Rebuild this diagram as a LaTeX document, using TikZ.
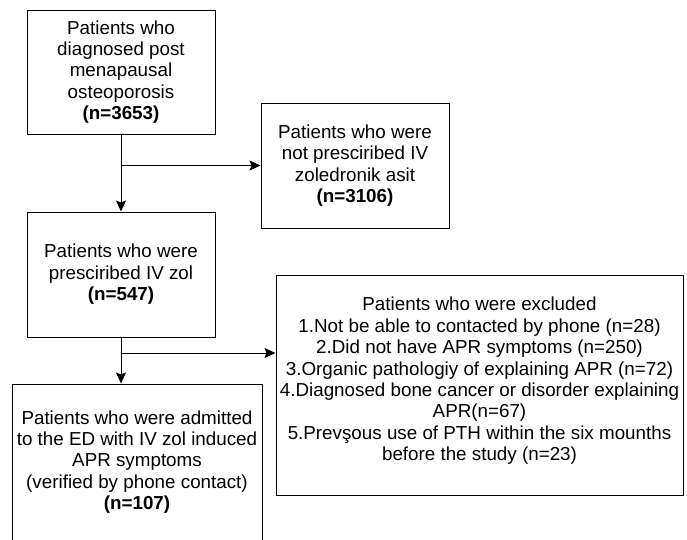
\documentclass[tikz,border=0pt]{standalone}
\usepackage{fontspec}
\setmainfont{Liberation Sans}
\usepackage{tikz}
\usetikzlibrary{shapes,arrows.meta}

\tikzset{
  box/.style={draw, line width=1pt, align=center, inner sep=0pt, font=\fontsize{18.8}{21.4}\selectfont},
  arr/.style={-{Stealth[length=11pt,width=10pt,inset=2pt]}, line width=1pt}
}

\begin{document}
\begin{tikzpicture}[x=1pt,y=1pt,yscale=-1,xscale=1]
        \useasboundingbox (0,0) rectangle (687,539);
        \clip (0,0) rectangle (687,539);
        % boxes
        \node [box, minimum width=188, minimum height=124] (diag) at (121,72) {Patients who\\diagnosed post\\menapausal\\osteoporosis\\\textbf{(n=3653)}};
        \node [box, minimum width=188, minimum height=125] (notpres) at (355,165.5) {Patients who were\\not presciribed IV\\zoledronik asit\\\textbf{(n=3106)}};
        \node [box, minimum width=188, minimum height=125] (pres) at (121,274.5) {Patients who were\\presciribed IV zol\\\textbf{(n=547)}};
        \node [box, minimum width=407, minimum height=220] (excl) at (479.5,385) {Patients who were excluded\\1.Not be able to contacted by phone (n=28)\\2.Did not have APR symptoms (n=250)\\3.Organic pathologiy of explaining APR (n=72)\\4.Diagnosed bone cancer or disorder explaining\\APR(n=67)\\5.Prevşous use of PTH within the six mounths\\before the study (n=23)\\[-9.4pt]};
        \node [box, minimum width=250, minimum height=156] (admit) at (137,462) {Patients who were admitted\\to the ED with IV zol induced\\APR symptoms\\(verified by phone contact)\\\textbf{(n=107)}};

        % connectors
        \coordinate (b1) at (diag.south |- notpres.west);
        \coordinate (b2) at (121,353);
        \draw [arr] (diag.south) -- (pres.north);
        \draw [arr] (b1) -- (notpres.west);
        \draw [arr] (pres.south) -- (pres.south |- admit.north);
        \draw [arr] (b2) -- (b2 -| excl.west);
\end{tikzpicture}
\end{document}
